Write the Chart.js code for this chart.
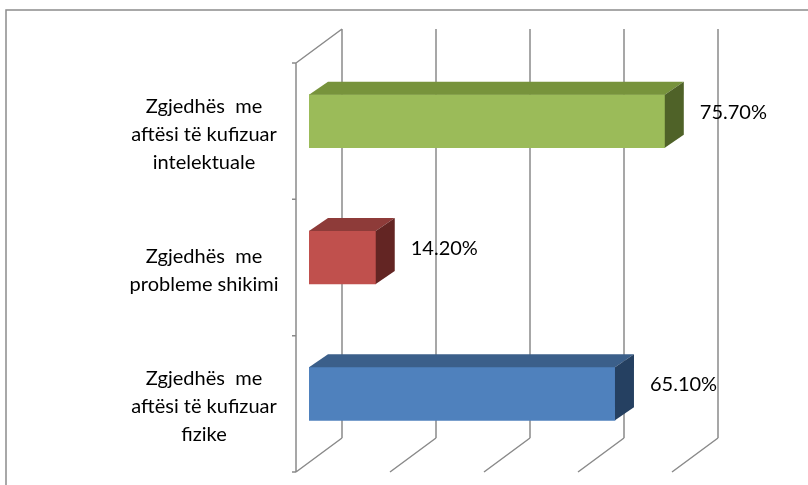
<!DOCTYPE html>
<html>
<head>
<meta charset="utf-8">
<script src="https://cdn.jsdelivr.net/npm/chart.js@4/dist/chart.umd.min.js"></script>
<style>
    html, body { margin: 0; padding: 0; background: #fff; }
    #wrap { width: 808px; height: 485px; }
</style>
</head>
<body>
<div id="wrap"><canvas id="barChart" width="808" height="485"></canvas></div>
<script>
// Category labels (one array entry per line of text)
const categories = [
    ['Zgjedhës  me', 'aftësi të kufizuar', 'intelektuale'],
    ['Zgjedhës  me', 'probleme shikimi'],
    ['Zgjedhës  me', 'aftësi të kufizuar', 'fizike']
];
const values = [75.7, 14.2, 65.1];
const gridTicks = [0, 20, 40, 60, 80];

// Face colours for each bar: front, top, side
const frontColors = ['#9BBB59', '#C0504D', '#4F81BD'];
const topColors = ['#77933C', '#8E3B39', '#3B5F8A'];
const sideColors = ['#4F6228', '#632523', '#254061'];

const FONT = '20px Lato, "Open Sans", sans-serif';
const GRID = '#8a8a8a';

// 3D offsets relative to the bar plane
const FRONT = { dx: -13, dy: 10 };
const BACK = { dx: 33, dy: -24 };
const BAR_DEPTH = { dx: 19, dy: -13 };

// Walls, floor lines and back grid, drawn under the bars
const wallsPlugin = {
    id: 'walls',
    beforeDatasetsDraw(chart) {
        const ctx = chart.ctx;
        const x = chart.scales.x;
        const area = chart.chartArea;
        ctx.save();

        // outer frame
        ctx.strokeStyle = '#8c8c8c';
        ctx.lineWidth = 1.5;
        ctx.strokeRect(6, 10, 900, 600);

        ctx.strokeStyle = GRID;
        ctx.lineWidth = 1.5;
        ctx.beginPath();
        gridTicks.forEach(v => {
            const px = x.getPixelForValue(v);
            // back wall line
            ctx.moveTo(px + BACK.dx, area.top + BACK.dy);
            ctx.lineTo(px + BACK.dx, area.bottom + BACK.dy);
            // floor line
            ctx.moveTo(px + BACK.dx, area.bottom + BACK.dy);
            ctx.lineTo(px + FRONT.dx, area.bottom + FRONT.dy);
        });
        // side wall: front edge and top edge
        const x0 = x.getPixelForValue(0);
        ctx.moveTo(x0 + FRONT.dx, area.top + FRONT.dy);
        ctx.lineTo(x0 + FRONT.dx, area.bottom + FRONT.dy);
        ctx.moveTo(x0 + FRONT.dx, area.top + FRONT.dy);
        ctx.lineTo(x0 + BACK.dx, area.top + BACK.dy);
        // category ticks on the front edge
        const band = (area.bottom - area.top) / categories.length;
        for (let i = 0; i <= categories.length; i++) {
            const ty = area.top + i * band + FRONT.dy;
            ctx.moveTo(x0 + FRONT.dx - 4, ty);
            ctx.lineTo(x0 + FRONT.dx, ty);
        }
        ctx.stroke();
        ctx.restore();
    }
};

// Top and side faces of the bars, plus category and value labels
const facesPlugin = {
    id: 'faces',
    afterDatasetsDraw(chart) {
        const ctx = chart.ctx;
        const meta = chart.getDatasetMeta(0);
        const area = chart.chartArea;
        const band = (area.bottom - area.top) / categories.length;
        ctx.save();
        meta.data.forEach((bar, i) => {
            const p = bar.getProps(['x', 'y', 'base', 'height'], true);
            const left = p.base, right = p.x;
            const top = p.y - p.height / 2, bottom = p.y + p.height / 2;
            const dx = BAR_DEPTH.dx, dy = BAR_DEPTH.dy;

            ctx.fillStyle = topColors[i];
            ctx.beginPath();
            ctx.moveTo(left, top);
            ctx.lineTo(left + dx, top + dy);
            ctx.lineTo(right + dx, top + dy);
            ctx.lineTo(right, top);
            ctx.closePath();
            ctx.fill();

            ctx.fillStyle = sideColors[i];
            ctx.beginPath();
            ctx.moveTo(right, top);
            ctx.lineTo(right + dx, top + dy);
            ctx.lineTo(right + dx, bottom + dy);
            ctx.lineTo(right, bottom);
            ctx.closePath();
            ctx.fill();

            // value label
            ctx.fillStyle = '#000';
            ctx.font = FONT;
            ctx.textAlign = 'left';
            ctx.textBaseline = 'middle';
            ctx.fillText(values[i].toFixed(2) + '%', right + 35, p.y - 9);

            // category label
            const lines = categories[i];
            const cy = area.top + (i + 0.5) * band + FRONT.dy + 3;
            const lh = 28;
            ctx.textAlign = 'center';
            lines.forEach((line, k) => {
                ctx.fillText(line, 204, cy + (k - (lines.length - 1) / 2) * lh);
            });
        });
        ctx.restore();
    }
};

new Chart(document.getElementById('barChart'), {
    type: 'bar',
    data: {
        labels: categories,
        datasets: [{
            data: values,
            backgroundColor: frontColors,
            borderWidth: 0,
            barThickness: 53
        }]
    },
    options: {
        indexAxis: 'y',
        responsive: false,
        animation: false,
        layout: { padding: { left: 309, right: 123, top: 53, bottom: 23 } },
        scales: {
            x: { display: false, min: 0, max: 80 },
            y: { display: false }
        },
        plugins: {
            legend: { display: false },
            tooltip: { enabled: false }
        }
    },
    plugins: [wallsPlugin, facesPlugin]
});
</script>
</body>
</html>
